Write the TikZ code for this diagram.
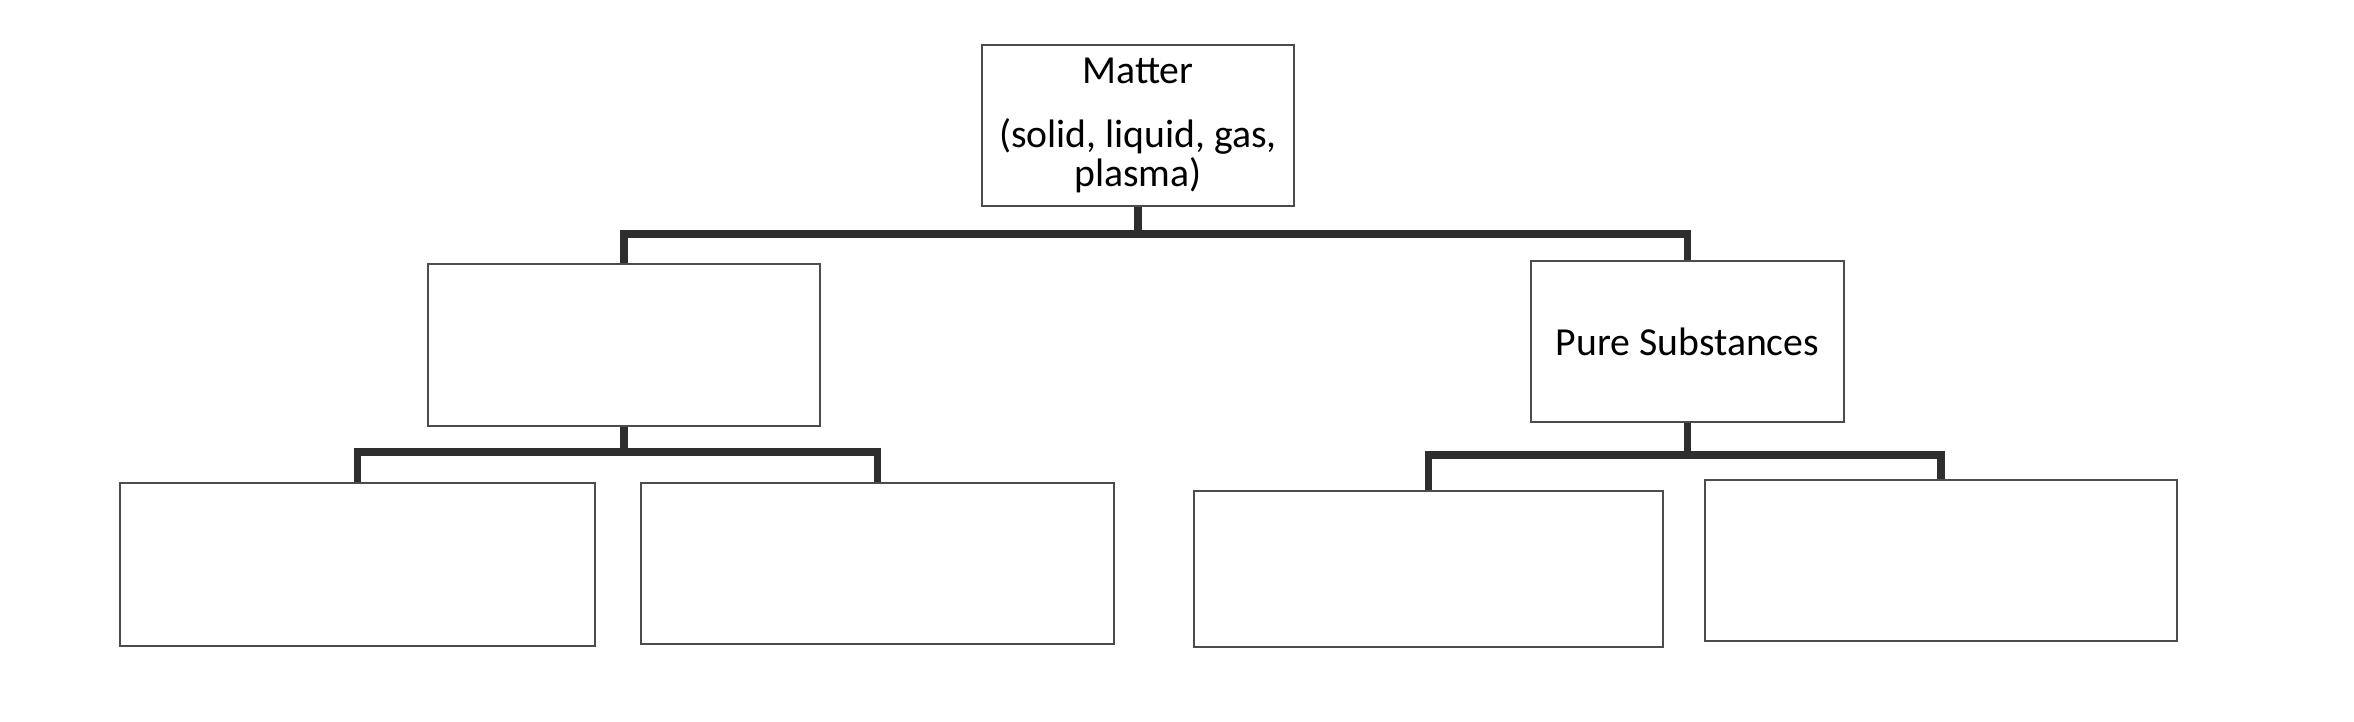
\documentclass[tikz,border=0pt]{standalone}
\usepackage{fontspec}
\setmainfont{Carlito}
\usepackage{tikz}

\tikzset{
  box/.style={draw=black!70, line width=0.8pt, fill=white, rectangle, inner sep=0pt, align=center, font=\fontsize{11.3}{11}\selectfont},
  link/.style={draw=black!82, line width=2pt}
}

\begin{document}
\begin{tikzpicture}
\useasboundingbox[fill=white] (0,0) rectangle (23.54,-7.22);
\node[box, minimum width=3.12cm, minimum height=1.61cm] (matter) at (11.38,-1.255) {Matter\\[0.25cm](solid, liquid, gas,\\plasma)};
\node[box, minimum width=3.92cm, minimum height=1.62cm] (mixture) at (6.24,-3.45) {};
\node[box, minimum width=3.13cm, minimum height=1.61cm] (pure) at (16.875,-3.415) {Pure Substances};
\node[box, minimum width=4.75cm, minimum height=1.63cm] (mixa) at (3.575,-5.645) {};
\node[box, minimum width=4.73cm, minimum height=1.61cm] (mixb) at (8.775,-5.635) {};
\node[box, minimum width=4.69cm, minimum height=1.56cm] (purea) at (14.285,-5.69) {};
\node[box, minimum width=4.72cm, minimum height=1.61cm] (pureb) at (19.41,-5.605) {};
\coordinate (topbar) at (11.38,-2.34);
\coordinate (mixbar) at (6.24,-4.52);
\coordinate (purebar) at (16.875,-4.55);
\draw[link] (matter.south) -- (topbar);
\draw[link] (mixture.north) |- (topbar) -| (pure.north);
\draw[link] (mixture.south) -- (mixbar);
\draw[link] (mixa.north) |- (mixbar) -| (mixb.north);
\draw[link] (pure.south) -- (purebar);
\draw[link] (purea.north) |- (purebar) -| (pureb.north);
\end{tikzpicture}
\end{document}
